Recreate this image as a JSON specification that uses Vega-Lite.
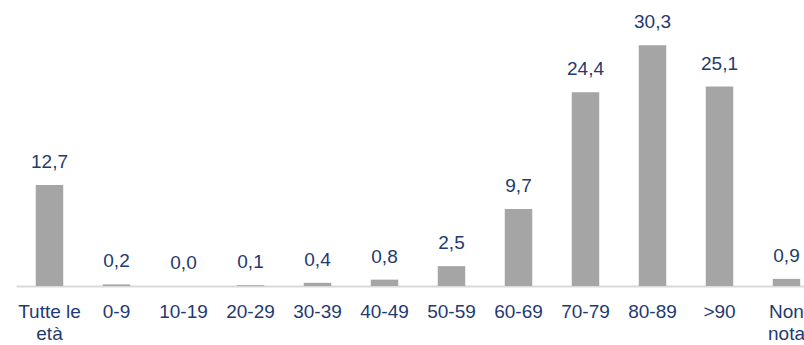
{
  "$schema": "https://vega.github.io/schema/vega-lite/v6.json",
  "width": 804,
  "height": 286,
  "autosize": {"type": "none"},
  "padding": {"left": 16, "top": 0, "right": 0, "bottom": 59},
  "background": "white",
  "config": {
    "view": {"stroke": null},
    "locale": {"number": {"decimal": ",", "thousands": ".", "grouping": [3], "currency": ["", " €"]}},
    "font": "Liberation Sans"
  },
  "data": {
    "values": [
      {"eta": "Tutte le età", "valore": 12.7},
      {"eta": "0-9", "valore": 0.2},
      {"eta": "10-19", "valore": 0.0},
      {"eta": "20-29", "valore": 0.1},
      {"eta": "30-39", "valore": 0.4},
      {"eta": "40-49", "valore": 0.8},
      {"eta": "50-59", "valore": 2.5},
      {"eta": "60-69", "valore": 9.7},
      {"eta": "70-79", "valore": 24.4},
      {"eta": "80-89", "valore": 30.3},
      {"eta": ">90", "valore": 25.1},
      {"eta": "Non nota", "valore": 0.9}
    ]
  },
  "encoding": {
    "x": {
      "field": "eta",
      "type": "nominal",
      "sort": null,
      "scale": {"paddingInner": 0.59, "paddingOuter": 0.295},
      "axis": {
        "title": null,
        "labelAngle": 0,
        "ticks": false,
        "labelPadding": 16,
        "labelFontSize": 19,
        "labelColor": "#1f3a70",
        "labelLineHeight": 22,
        "domainColor": "#d9d9d9",
        "domainWidth": 2,
        "labelOverlap": false,
        "labelExpr": "datum.value == 'Tutte le età' ? ['Tutte le', 'età'] : datum.value == 'Non nota' ? ['Non', 'nota'] : datum.value"
      }
    },
    "y": {
      "field": "valore",
      "type": "quantitative",
      "scale": {"domain": [0, 36], "nice": false},
      "axis": null
    }
  },
  "layer": [
    {"mark": {"type": "bar", "color": "#a5a5a5"}},
    {
      "mark": {"type": "text", "baseline": "alphabetic", "dy": -17, "fontSize": 19, "color": "#1f3a70"},
      "encoding": {"text": {"field": "valore", "type": "quantitative", "format": ".1f"}}
    }
  ]
}
